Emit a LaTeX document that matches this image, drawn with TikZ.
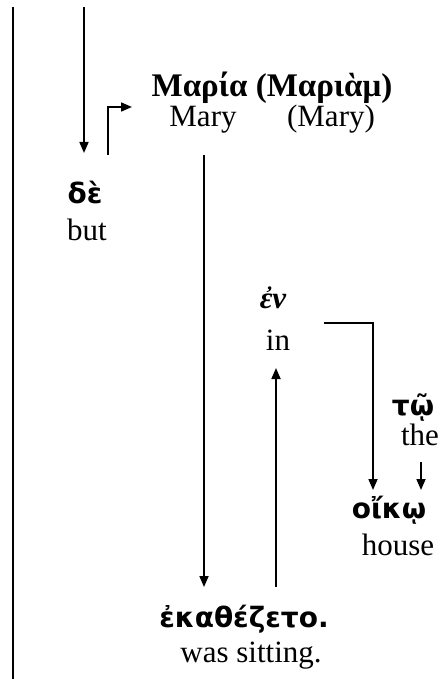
\documentclass[tikz,border=0pt]{standalone}
\usepackage{fontspec}
\setmainfont{Liberation Serif}
\newfontfamily\grsans{DejaVu Sans}
\usetikzlibrary{arrows.meta}

\tikzset{
  word/.style={inner sep=0pt, anchor=base, font=\fontsize{31}{35}\selectfont},
  gkserif/.style={inner sep=0pt, anchor=base, font=\fontsize{33}{37}\selectfont\bfseries},
  gksans/.style={inner sep=0pt, anchor=base, font=\fontsize{28}{32}\selectfont\grsans\bfseries},
  gkital/.style={inner sep=0pt, anchor=base, font=\fontsize{31}{35}\selectfont\bfseries\itshape},
  link/.style={line width=1.7pt, -{Triangle[length=11pt,width=9pt]}},
  rule/.style={line width=1.7pt}
}

\begin{document}
\begin{tikzpicture}[x=1pt,y=-1pt]
\useasboundingbox (0,0) rectangle (443,679);
\fill[white] (0,0) rectangle (443,679);

% words of the sentence with their glosses
\node[gksans] (de) at (85,203) {δὲ};
\node[word] (but) at (87,240) {but};
\node[gkserif] (maria) at (272,97) {Μαρία (Μαριὰμ)};
\node[word] (mary) at (203,127) {Mary};
\node[word] (mary2) at (331,127) {(Mary)};
\node[gkital] (en) at (273,308) {ἐν};
\node[word] (in) at (278,350) {in};
\node[gksans] (to) at (413,415) {τῷ};
\node[word] (the) at (420,445) {the};
\node[gksans] (oikw) at (389,518) {οἴκῳ};
\node[word] (house) at (398,555) {house};
\node[gksans] (ekath) at (244,627) {ἐκαθέζετο.};
\node[word] (sit) at (251,662) {was sitting.};

% connector end points
\coordinate (margTop) at (13,7);
\coordinate (margBot) at (13,679);
\coordinate (inTop) at (84,7);
\coordinate (deIn) at (84,153);
\coordinate (deOut) at (108,155);
\coordinate (deBend) at (108,107);
\coordinate (mariaIn) at (132,107);
\coordinate (mariaOut) at (204,155);
\coordinate (ekIn) at (204,587);
\coordinate (ekOut) at (276,587);
\coordinate (enIn) at (276,368);
\coordinate (enOut) at (324,323);
\coordinate (enBend) at (373,323);
\coordinate (oikIn) at (373,490);
\coordinate (toOut) at (421,462);
\coordinate (toIn) at (421,490);

% connectors
\draw[rule] (margTop) -- (margBot);
\draw[link] (inTop) -- (deIn);
\draw[link] (deOut) -- (deBend) -- (mariaIn);
\draw[link] (mariaOut) -- (ekIn);
\draw[link] (ekOut) -- (enIn);
\draw[link] (enOut) -- (enBend) -- (oikIn);
\draw[link] (toOut) -- (toIn);
\end{tikzpicture}
\end{document}
